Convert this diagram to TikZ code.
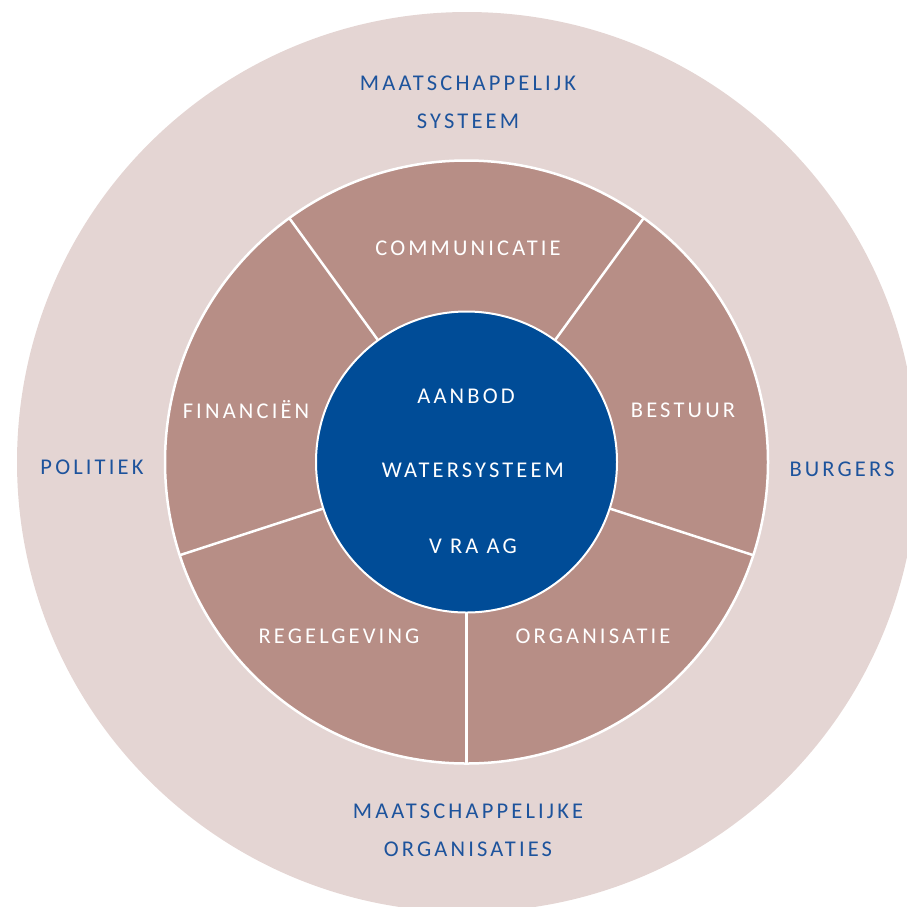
\documentclass[tikz,border=0pt]{standalone}
\usepackage{fontspec}
\usetikzlibrary{calc}
\setmainfont{Carlito}
\newfontfamily\spaced[LetterSpace=14]{Carlito}
\definecolor{outerpink}{HTML}{E4D5D3}
\definecolor{ringbrown}{HTML}{B78E86}
\definecolor{coreblue}{HTML}{004C97}
\definecolor{textblue}{HTML}{1D539C}
\begin{document}
\begin{tikzpicture}[x=1pt,y=-1pt,
  outerlbl/.style={text=textblue,font=\spaced\fontsize{22.5}{38}\selectfont,align=center,inner sep=0pt},
  ringlbl/.style={text=white,font=\spaced\fontsize{22.5}{38}\selectfont,align=center,inner sep=0pt},
  sep/.style={draw=white,line width=2.5pt}]
\useasboundingbox (0,0) rectangle (907,906);
\begin{scope}
\clip (0,0) rectangle (907,906);
\fill[outerpink] (467,462) circle (450);
\end{scope}
\coordinate (c) at (466.5,462);
\draw[fill=ringbrown,draw=white,line width=2.5pt] (c) circle (301.5);
\foreach \a in {306,234,162,90,18}{
  \draw[sep] ($(c)+(\a:150)$) -- ($(c)+(\a:302)$);
}
\draw[fill=coreblue,draw=white,line width=2pt] (c) circle (150.5);
% labels
\node[outerlbl] (ms) at (468,102) {MAATSCHAPPELIJK\\SYSTEEM};
\node[outerlbl] (pol) at (92,467) {POLITIEK};
\node[outerlbl] (bur) at (842,469) {BURGERS};
\node[outerlbl] (mo) at (468,830) {MAATSCHAPPELIJKE\\ORGANISATIES};
\node[ringlbl] (com) at (468,248) {COMMUNICATIE};
\node[ringlbl] (bes) at (683,410) {BESTUUR};
\node[ringlbl] (org) at (593,636) {ORGANISATIE};
\node[ringlbl] (reg) at (339,636) {REGELGEVING};
\node[ringlbl] (fin) at (246,410) {FINANCIËN};
\node[ringlbl] (aan) at (466,396) {AANBOD};
\node[ringlbl] (ws) at (473,470) {WATERSYSTEEM};
\node[ringlbl] (vr) at (473,546) {V RA AG};
\end{tikzpicture}
\end{document}
